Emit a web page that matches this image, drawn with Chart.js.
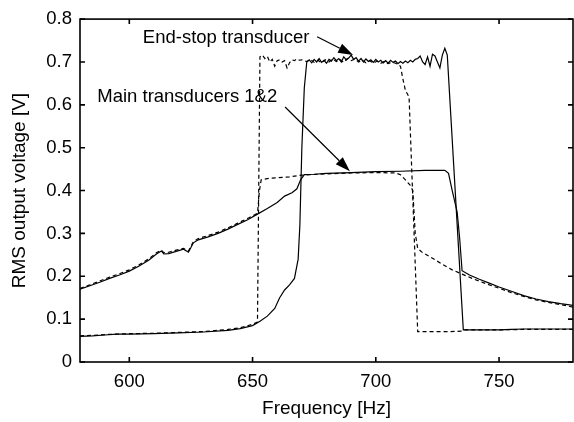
<!DOCTYPE html>
<html>
<head>
<meta charset="utf-8">
<script src="https://cdn.jsdelivr.net/npm/chart.js@4.4.1/dist/chart.umd.min.js"></script>
<style>
  html, body { margin: 0; padding: 0; background: #fff; }
  #wrap { width: 574px; height: 422px; }
</style>
</head>
<body>
<div id="wrap"><canvas id="Chart1" width="574" height="422"></canvas></div>
<script>

// axis ticks
const xTicks = [600, 650, 700, 750];
const yTicks = [0, 0.1, 0.2, 0.3, 0.4, 0.5, 0.6, 0.7, 0.8];

// main transducers, solid and dashed  [Hz, V]
const mainSolid = [
    [580, 0.170], [584, 0.178], [588, 0.186], [592, 0.195], [596, 0.203], [600, 0.212],
    [604, 0.224], [608, 0.238], [611, 0.252], [613, 0.259], [614, 0.252], [616, 0.253],
    [619, 0.258], [622, 0.263], [624, 0.256], [626, 0.278], [628, 0.285], [632, 0.292],
    [636, 0.300], [640, 0.310], [644, 0.321], [648, 0.332], [652, 0.345], [656, 0.358],
    [660, 0.372], [663, 0.387], [666, 0.395], [668, 0.404], [669.5, 0.425], [671, 0.437],
    [675, 0.438], [680, 0.440], [690, 0.442], [700, 0.444], [710, 0.445], [720, 0.447],
    [728, 0.447], [729.5, 0.440], [731, 0.400], [733, 0.350], [734, 0.290], [735, 0.213],
    [738, 0.203], [742, 0.193], [746, 0.184], [750, 0.175], [755, 0.165], [760, 0.155],
    [765, 0.147], [770, 0.141], [775, 0.136], [780, 0.132]
];
const mainDashed = [
    [580, 0.172], [584, 0.180], [588, 0.189], [592, 0.198], [596, 0.206], [600, 0.215],
    [604, 0.227], [608, 0.241], [611, 0.255], [613, 0.261], [614, 0.255], [616, 0.256],
    [619, 0.261], [622, 0.265], [624, 0.259], [626, 0.281], [628, 0.288], [632, 0.295],
    [636, 0.303], [640, 0.313], [644, 0.324], [648, 0.335], [652, 0.347], [652.8, 0.400],
    [653.5, 0.425], [656, 0.428], [660, 0.430], [665, 0.432], [670, 0.436], [680, 0.439],
    [690, 0.441], [700, 0.442], [708, 0.441], [710, 0.437], [712, 0.425], [714, 0.412],
    [715, 0.400], [716, 0.300], [717, 0.265], [719, 0.255], [723, 0.242], [727, 0.228],
    [731, 0.215], [735, 0.205], [740, 0.193], [745, 0.182], [750, 0.172], [755, 0.162],
    [760, 0.153], [765, 0.145], [770, 0.139], [775, 0.134], [780, 0.128]
];

// end-stop transducer, solid and dashed  [Hz, V]
const endSolid = [
    [580, 0.060], [585, 0.061], [590, 0.063], [595, 0.065], [600, 0.065], [610, 0.066],
    [620, 0.068], [630, 0.070], [640, 0.074], [645, 0.078], [650, 0.085], [653, 0.095],
    [656, 0.107], [659, 0.125], [661, 0.150], [663, 0.168], [665, 0.180], [667, 0.195],
    [668.5, 0.240], [669.2, 0.320], [670, 0.500], [671, 0.640], [672, 0.700],
    [673, 0.705], [674, 0.698], [675, 0.706], [676, 0.700], [677, 0.708], [678, 0.699],
    [679, 0.704], [680, 0.697], [681, 0.706], [682, 0.702], [683, 0.710], [684, 0.703],
    [685, 0.708], [686, 0.700], [687, 0.712], [688, 0.705], [689, 0.709], [690, 0.716],
    [691, 0.706], [692, 0.710], [693, 0.702], [694, 0.708], [695, 0.700], [696, 0.707],
    [697, 0.701], [698, 0.705], [699, 0.699], [700, 0.706], [701, 0.700], [702, 0.704],
    [703, 0.698], [704, 0.703], [705, 0.697], [706, 0.704], [707, 0.699], [708, 0.702],
    [709, 0.696], [710, 0.701], [711, 0.697], [712, 0.702], [713, 0.698], [714, 0.704],
    [715, 0.700], [716, 0.706], [717, 0.708], [718, 0.714], [719, 0.700], [720, 0.694],
    [721, 0.712], [722, 0.690], [723, 0.718], [724, 0.714], [725, 0.700], [726, 0.686],
    [727, 0.716], [728, 0.732], [729, 0.716], [735.5, 0.075], [740, 0.075], [745, 0.075],
    [750, 0.075], [755, 0.076], [760, 0.077], [770, 0.077], [780, 0.077]
];
const endDashed = [
    [580, 0.061], [585, 0.062], [590, 0.064], [595, 0.065], [600, 0.066], [610, 0.067],
    [620, 0.069], [630, 0.071], [640, 0.076], [645, 0.080], [650, 0.088], [652, 0.093],
    [652.5, 0.400], [653, 0.712], [654, 0.716], [655, 0.708], [656, 0.713], [657, 0.700],
    [658, 0.706], [659, 0.690], [660, 0.703], [661, 0.705], [662, 0.700], [663, 0.703],
    [664, 0.686], [665, 0.698], [666, 0.705], [667, 0.703], [668, 0.707], [669, 0.704],
    [670, 0.705], [671, 0.703], [672, 0.701], [673.5, 0.706], [675, 0.699], [676.5, 0.704],
    [678, 0.698], [679.5, 0.705], [681, 0.700], [682.5, 0.707], [684, 0.701], [685.5, 0.706],
    [687, 0.699], [688.5, 0.708], [690, 0.703], [691.5, 0.707], [693, 0.700], [694.5, 0.704],
    [696, 0.698], [697.5, 0.703], [699, 0.697], [700.5, 0.702], [702, 0.697], [703.5, 0.701],
    [705, 0.696], [706.5, 0.700], [708, 0.697], [709, 0.694], [710, 0.690], [711, 0.660],
    [712, 0.634], [713.5, 0.618], [717, 0.071], [720, 0.071], [725, 0.071], [730, 0.071],
    [735, 0.072], [736, 0.075], [740, 0.075], [750, 0.075], [760, 0.076], [770, 0.076],
    [780, 0.076]
];

// annotations: text anchor [Hz, V], arrow from / to [Hz, V]
const labelEnd = 'End-stop transducer';
const labelEndPos = [605.5, 0.757];
const arrowEnd = [[676.2, 0.759], [690.8, 0.716]];
const labelMain = 'Main transducers 1&2';
const labelMainPos = [587.0, 0.618];
const arrowMain = [[663.2, 0.595], [689.5, 0.445]];

const FONT = 'Liberation Sans, Arial, Helvetica, sans-serif';

function pts(arr) {
    return arr.map(p => ({ x: p[0], y: p[1] }));
}

function drawArrow(ctx, x1, y1, x2, y2) {
    const ang = Math.atan2(y2 - y1, x2 - x1);
    const len = 15, half = 5;
    const bx = x2 - len * Math.cos(ang), by = y2 - len * Math.sin(ang);
    ctx.beginPath();
    ctx.moveTo(x1, y1);
    ctx.lineTo(bx, by);
    ctx.stroke();
    ctx.beginPath();
    ctx.moveTo(x2, y2);
    ctx.lineTo(bx + half * Math.sin(ang), by - half * Math.cos(ang));
    ctx.lineTo(bx - half * Math.sin(ang), by + half * Math.cos(ang));
    ctx.closePath();
    ctx.fill();
}

// box with inward ticks + annotations
const boxPlugin = {
    id: 'boxPlugin',
    afterDatasetsDraw(chart) {
        const ctx = chart.ctx;
        const a = chart.chartArea;
        const xs = chart.scales.x, ys = chart.scales.y;
        const tl = 5;
        ctx.save();
        ctx.strokeStyle = '#000';
        ctx.fillStyle = '#000';
        ctx.lineWidth = 1.6;
        ctx.strokeRect(a.left, a.top, a.right - a.left, a.bottom - a.top);
        ctx.beginPath();
        xTicks.forEach(v => {
            const px = xs.getPixelForValue(v);
            ctx.moveTo(px, a.bottom); ctx.lineTo(px, a.bottom - tl);
            ctx.moveTo(px, a.top); ctx.lineTo(px, a.top + tl);
        });
        yTicks.forEach(v => {
            const py = ys.getPixelForValue(v);
            ctx.moveTo(a.left, py); ctx.lineTo(a.left + tl, py);
            ctx.moveTo(a.right, py); ctx.lineTo(a.right - tl, py);
        });
        ctx.stroke();

        ctx.font = '18.5px ' + FONT;
        ctx.textBaseline = 'middle';
        ctx.textAlign = 'left';
        ctx.fillText(labelEnd, xs.getPixelForValue(labelEndPos[0]), ys.getPixelForValue(labelEndPos[1]));
        ctx.fillText(labelMain, xs.getPixelForValue(labelMainPos[0]), ys.getPixelForValue(labelMainPos[1]));

        ctx.lineWidth = 1.2;
        [arrowEnd, arrowMain].forEach(ar => {
            drawArrow(ctx,
                xs.getPixelForValue(ar[0][0]), ys.getPixelForValue(ar[0][1]),
                xs.getPixelForValue(ar[1][0]), ys.getPixelForValue(ar[1][1]));
        });
        ctx.restore();
    }
};

function GenerateChart1() {

    const ctx = document.getElementById('Chart1');

    const line = (data, dashed) => ({
        data: pts(data),
        borderColor: '#000',
        borderWidth: 1.2,
        borderDash: dashed ? [4, 3] : [],
        pointRadius: 0,
        fill: false,
        tension: 0
    });

    new Chart(ctx, {
        type: 'line',
        data: {
            datasets: [
                line(mainSolid, false),
                line(mainDashed, true),
                line(endSolid, false),
                line(endDashed, true)
            ]
        },
        options: {
            responsive: false,
            animation: false,
            layout: { padding: { top: 10, right: 1, bottom: 0, left: 0 } },
            plugins: {
                legend: { display: false },
                tooltip: { enabled: false }
            },
            scales: {
                x: {
                    type: 'linear',
                    min: 580,
                    max: 780,
                    afterBuildTicks: s => { s.ticks = xTicks.map(v => ({ value: v })); },
                    afterFit: s => { s.height = 60; },
                    grid: { display: false, drawTicks: false },
                    border: { display: false },
                    ticks: {
                        color: '#000',
                        padding: 9,
                        maxRotation: 0,
                        font: { family: FONT, size: 18.5 }
                    },
                    title: {
                        display: true,
                        text: 'Frequency [Hz]',
                        color: '#000',
                        padding: { top: 0, bottom: 2 },
                        font: { family: FONT, size: 19 }
                    }
                },
                y: {
                    min: 0,
                    max: 0.8,
                    afterBuildTicks: s => { s.ticks = yTicks.map(v => ({ value: v })); },
                    afterFit: s => { s.width = 80; },
                    grid: { display: false, drawTicks: false },
                    border: { display: false },
                    ticks: {
                        color: '#000',
                        padding: 8,
                        font: { family: FONT, size: 18.5 },
                        callback: v => v === 0 ? '0' : v.toFixed(1)
                    },
                    title: {
                        display: true,
                        text: 'RMS output voltage [V]',
                        color: '#000',
                        padding: { top: 8, bottom: 0 },
                        font: { family: FONT, size: 19 }
                    }
                }
            }
        },
        plugins: [boxPlugin]
    });
}

GenerateChart1();
</script>
</body>
</html>
